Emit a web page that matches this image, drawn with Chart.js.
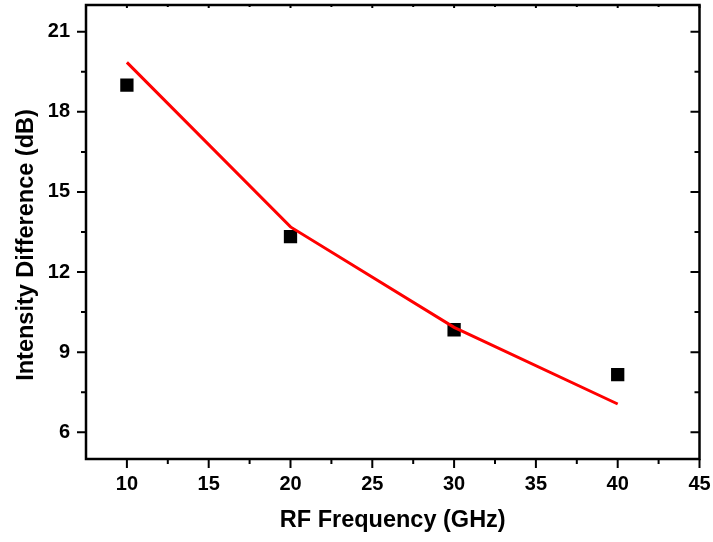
<!DOCTYPE html>
<html>
<head>
<meta charset="utf-8">
<script src="https://cdn.jsdelivr.net/npm/chart.js@4"></script>
<style>
html,body{margin:0;padding:0;background:#fff;}
#wrap{width:713px;height:542px;position:relative;}
</style>
</head>
<body>
<div id="wrap"><canvas id="c" width="713" height="542"></canvas></div>
<script>
const frequencies = [10, 20, 30, 40];
const measured = [19.0, 13.33, 9.84, 8.16];
const fitted = [19.85, 13.69, 9.93, 7.06];
const xTicks = [10, 15, 20, 25, 30, 35, 40, 45];
const xMinor = [12.5, 17.5, 22.5, 27.5, 32.5, 37.5, 42.5];
const yTicks = [6, 9, 12, 15, 18, 21];
const yMinor = [7.5, 10.5, 13.5, 16.5, 19.5];
const xTitle = 'RF Frequency (GHz)';
const yTitle = 'Intensity Difference (dB)';

const FONT = "'Liberation Sans', Arial, sans-serif";

const framePlugin = {
  id: 'frame',
  afterDatasetsDraw(chart) {
    const {ctx, chartArea: a, scales: {x, y}} = chart;
    ctx.save();
    ctx.strokeStyle = '#000';
    ctx.lineCap = 'butt';
    ctx.lineWidth = 2;
    const majL = 9, minL = 5;
    ctx.beginPath();
    xTicks.forEach(v => {
      const p = x.getPixelForValue(v);
      ctx.moveTo(p, a.bottom); ctx.lineTo(p, a.bottom + majL);
      ctx.moveTo(p, a.top); ctx.lineTo(p, a.top + 3);
    });
    xMinor.forEach(v => {
      const p = x.getPixelForValue(v);
      ctx.moveTo(p, a.bottom); ctx.lineTo(p, a.bottom + minL);
      ctx.moveTo(p, a.top); ctx.lineTo(p, a.top + 2);
    });
    yTicks.forEach(v => {
      const p = y.getPixelForValue(v);
      ctx.moveTo(a.left, p); ctx.lineTo(a.left - majL, p);
      ctx.moveTo(a.right, p); ctx.lineTo(a.right - majL, p);
    });
    yMinor.forEach(v => {
      const p = y.getPixelForValue(v);
      ctx.moveTo(a.left, p); ctx.lineTo(a.left - minL, p);
      ctx.moveTo(a.right, p); ctx.lineTo(a.right - minL, p);
    });
    ctx.stroke();
    ctx.lineWidth = 2.5;
    ctx.strokeRect(a.left, a.top, a.right - a.left, a.bottom - a.top);
    // y axis title (Origin places it slightly below the axis centre)
    ctx.fillStyle = '#000';
    ctx.font = 'bold 23.5px ' + FONT;
    ctx.textAlign = 'center';
    ctx.textBaseline = 'alphabetic';
    ctx.translate(33, (a.top + a.bottom) / 2 + 13);
    ctx.rotate(-Math.PI / 2);
    ctx.fillText(yTitle, 0, 0);
    ctx.restore();
  }
};

new Chart(document.getElementById('c'), {
  type: 'scatter',
  data: {
    datasets: [
      {
        label: 'Fit',
        data: frequencies.map((f, i) => ({x: f, y: fitted[i]})),
        showLine: true,
        borderColor: '#ff0000',
        borderWidth: 3,
        pointRadius: 0,
        tension: 0,
        order: 0
      },
      {
        label: 'Measured',
        data: frequencies.map((f, i) => ({x: f, y: measured[i]})),
        pointStyle: 'rect',
        pointRadius: 9.4,
        pointHoverRadius: 9.4,
        backgroundColor: '#000',
        borderColor: '#000',
        borderWidth: 0,
        order: 1
      }
    ]
  },
  plugins: [framePlugin],
  options: {
    responsive: false,
    animation: false,
    events: [],
    layout: {autoPadding: false, padding: {top: 5, right: 13.5, left: 0, bottom: 0}},
    plugins: {legend: {display: false}, tooltip: {enabled: false}},
    scales: {
      x: {
        type: 'linear',
        min: 7.5, max: 45,
        afterBuildTicks: s => { s.ticks = xTicks.map(v => ({value: v})); },
        afterFit: s => { s.height = 83; s.paddingLeft = 0; s.paddingRight = 0; s.paddingTop = 0; s.paddingBottom = 0; },
        grid: {display: false, drawTicks: true, tickLength: 8},
        border: {display: false},
        ticks: {color: '#000', padding: 5, maxRotation: 0, font: {family: FONT, size: 20, weight: 'bold'}},
        title: {display: true, text: xTitle, color: '#000', padding: {top: 0, bottom: 7.7}, font: {family: FONT, size: 23.5, weight: 'bold'}}
      },
      y: {
        type: 'linear',
        min: 5, max: 22,
        afterBuildTicks: s => { s.ticks = yTicks.map(v => ({value: v})); },
        afterFit: s => { s.width = 86; s.paddingTop = 0; s.paddingBottom = 0; s.paddingLeft = 0; s.paddingRight = 0; },
        grid: {display: false, drawTicks: true, tickLength: 8},
        border: {display: false},
        ticks: {color: '#000', padding: 8, font: {family: FONT, size: 20, weight: 'bold'}},
        title: {display: false, text: yTitle}
      }
    }
  }
});
</script>
</body>
</html>
